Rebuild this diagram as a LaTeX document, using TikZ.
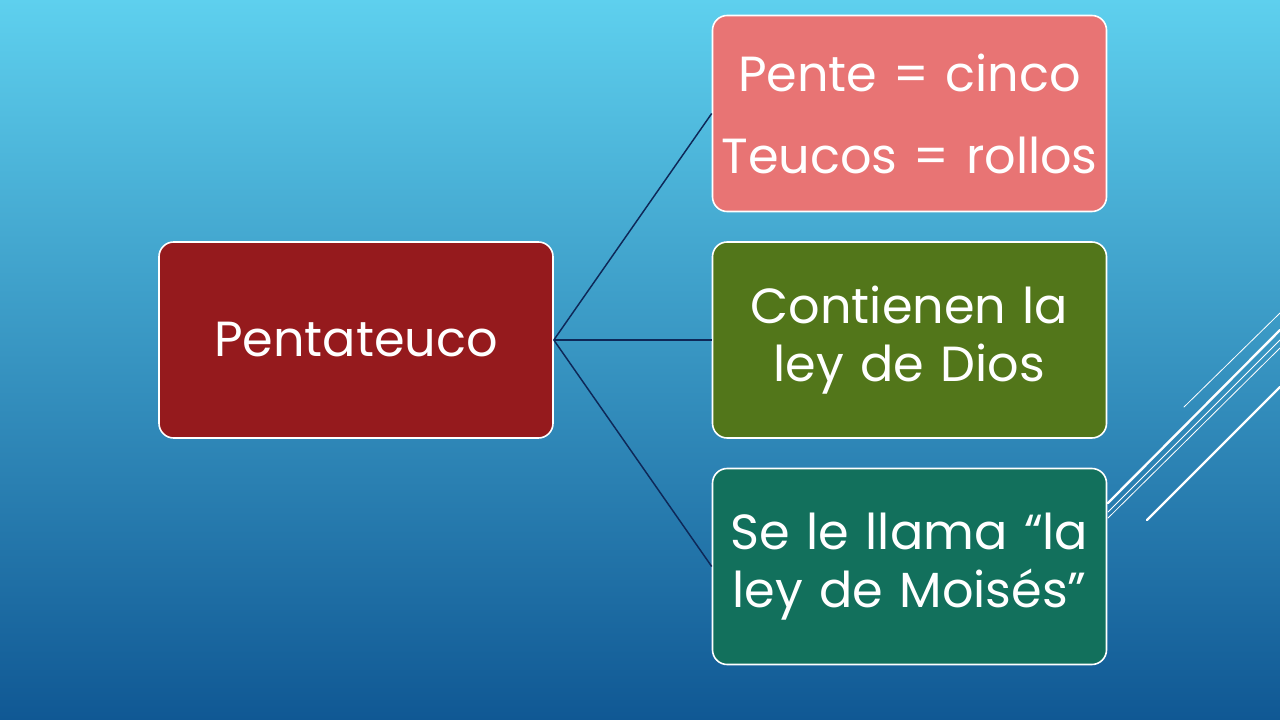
\documentclass[tikz,border=0pt]{standalone}
\usepackage{fontspec}
\setmainfont{Poppins}
\usetikzlibrary{positioning}
\definecolor{bgtop}{RGB}{94,208,238}
\definecolor{bgbot}{RGB}{16,88,148}
\definecolor{redbox}{RGB}{149,26,29}
\definecolor{pinkbox}{RGB}{232,116,116}
\definecolor{greenbox}{RGB}{82,118,26}
\definecolor{tealbox}{RGB}{18,112,92}
\definecolor{linkcol}{RGB}{14,40,88}
\tikzset{dbox/.style={rounded corners=11, draw=white, line width=1.2pt, text=white, minimum width=295.5pt, minimum height=147pt, text width=294pt, align=center, inner sep=0pt, font=\fontsize{37}{43.5}\selectfont}}
\tikzset{arr/.style={draw=linkcol, line width=1.1pt}}
\tikzset{deco/.style={draw=white, line cap=round}}

\begin{document}
\begin{tikzpicture}[x=0.75pt, y=-0.75pt]
                \shade[top color=bgtop, bottom color=bgbot] (0,0) rectangle (1280,720);
                \useasboundingbox (0,0) rectangle (1280,720);
                % decoration at the right edge
                \draw[deco, line width=0.6pt] (1184,407) -- (1280,313);
                \draw[deco, line width=1.8pt] (1108,503) -- (1280,330);
                \draw[deco, line width=0.6pt] (1108,512) -- (1280,340);
                \draw[deco, line width=0.6pt] (1108,518) -- (1280,348);
                \draw[deco, line width=1.8pt] (1147,520) -- (1280,387);

                \node[dbox, fill=redbox] (P) at (356,340) {Pentateuco};
                \node[dbox, fill=pinkbox] (N1) at (909.5,113.5) {Pente = cinco\\[18pt]Teucos = rollos};
                \node[dbox, fill=greenbox] (N2) at (909.5,340) {Contienen la\\ley de Dios};
                \node[dbox, fill=tealbox] (N3) at (909.5,566.5) {Se le llama “la\\ley de Moisés”};

                \draw[arr] (P.east) -- (N1.west);
                \draw[arr] (P.east) -- (N2.west);
                \draw[arr] (P.east) -- (N3.west);
            \end{tikzpicture}
\end{document}
